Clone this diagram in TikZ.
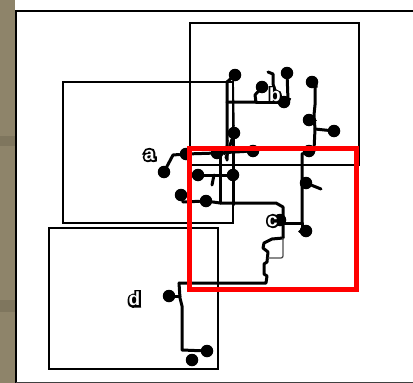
\documentclass[tikz,border=0pt]{standalone}
\usepackage{fontspec}
\font\tagfontout="Liberation Sans/B:embolden=20" at 19pt
\font\tagfontin="Liberation Sans/B" at 19pt
\tikzset{
  dot/.style={circle,fill=black,draw=none,inner sep=0pt,minimum size=12.5pt},
  wire/.style={line width=3pt,black,line cap=round,line join=round},
  thinwire/.style={line width=1.3pt,black!70,line join=round},
  panel/.style={draw=black,line width=1.7pt,inner sep=0pt,outer sep=0pt,anchor=north west},
  tag/.style={inner sep=0pt},
}
\newcommand{\tagtext}[1]{\makebox[0pt]{\color{black}\tagfontout #1}\makebox[0pt]{\color{white}\tagfontin #1}}
\begin{document}
\begin{tikzpicture}[x=1pt,y=-1pt]
\useasboundingbox (0,0) rectangle (413,383);
\fill[white] (0,0) rectangle (413,383);
\definecolor{strip}{HTML}{8E846A}
\definecolor{stripdark}{HTML}{7F765E}
\fill[strip] (0,0) rectangle (15,383);
\fill[stripdark] (0,136) rectangle (15,146);
\fill[stripdark] (0,300) rectangle (15,312);
% frame
\draw[black,line width=2pt] (15.5,383) -- (15.5,10.5) -- (413,10.5);
\draw[black!75,line width=1.2pt] (15.5,382.2) -- (413,382.2);
% panels
\node[panel,minimum width=169pt,minimum height=141.7pt] (pb) at (190,23.3) {};
\node[panel,minimum width=169.7pt,minimum height=141pt] (pa) at (63.3,81.7) {};
\node[panel,minimum width=169pt,minimum height=140.7pt] (pd) at (49.3,228.3) {};
% dots
\foreach \n/\x/\y in {d1/235/75,d2/287/73,d3/262/87,d4/284/102,d5/312/82,d6/309/120,d7/334/131,d8/234/133,
  d9/253/151,d10/309/151,d11/217/153,d12/186/154,d13/164/172,d14/198/175,d15/233/175,d16/181/195,d17/206/201,
  d18/306/183,d19/306/231,d20/280/220,d21/169/296,d22/207/351,d23/192/360}
  \node[dot] (\n) at (\x,\y) {};
% junctions
\foreach \n/\x/\y in {j1/227/82,j2/227/102,j3/233/82,j4/256/102,j5/315/129,j6/302/223,j7/283/207,j8/283/237,j9/266/283,j10/179/283,j11/182/350,j12/220/155,j13/220/203,j14/173/155}
  \coordinate (\n) at (\x,\y);
% wires, upper group
\draw[wire] (d1) -- (j1) -- (227,160);
\draw[line width=1.8pt,black] (j3) -- (d8);
\draw[wire] (d8) -- (226,158);
\draw[wire] (j2) -- (j4) -- (255,95) -- (d3);
\draw[wire] (j4) -- (d4);
\draw[wire] (d2) -- (288,100) -- (d4);
\draw[wire] (268,72) -- (273,74) -- (273,84) -- (277,96);
\draw[wire] (d5) -- (315,85) -- (315,105) -- (314,115) -- (j5) -- (314,150) -- (d10);
\draw[wire] (j5) -- (d7);
\draw[wire] (d6) -- (314,120);
\draw[wire] (302,224) -- (302,154) -- (d10);
\draw[wire] (d18) -- (321,189);
\draw[wire] (j6) -- (302,231) -- (d19);
\draw[wire] (j6) -- (283,223);
% wires, group a
\draw[wire] (d13) -- (j14) -- (d12) -- (d11) -- (d9);
\draw[wire] (j12) -- (j13);
\draw[wire] (d14) -- (d15);
\draw[wire] (214,175) -- (212,185);
\draw[wire] (233,133) -- (233,205);
\draw[wire] (d16) -- (183,202) -- (d17) -- (j13) -- (276,203) -- (j7) -- (j8);
\draw[line width=1.5pt,black] (228,140) -- (224,155);
% wires, lower group
\draw[wire] (j8) -- (283,238) -- (272,239) -- (264,243) -- (263,248) -- (268,252) -- (267,262) -- (264,264) -- (264,274) -- (267,276) -- (j9) -- (j10);
\draw[thinwire,rounded corners=2pt] (283,238) -- (283,258) -- (268,258);
\draw[wire] (j10) -- (180,298) -- (182,306) -- (j11) -- (d22);
\draw[wire] (d21) -- (180,296);
% red frame
\node[draw=red,line width=5pt,inner sep=0pt,outer sep=0pt,minimum width=167.8pt,minimum height=140.5pt,anchor=north west] (sel) at (189,148.5) {};
% labels
\node[tag] (la) at (149.5,155) {\tagtext{a}};
\node[tag] (lb) at (275,95) {\tagtext{b}};
\node[tag] (lc) at (272.5,221) {\tagtext{c}};
\node[tag] (ld) at (134.5,299) {\tagtext{d}};
\end{tikzpicture}
\end{document}
